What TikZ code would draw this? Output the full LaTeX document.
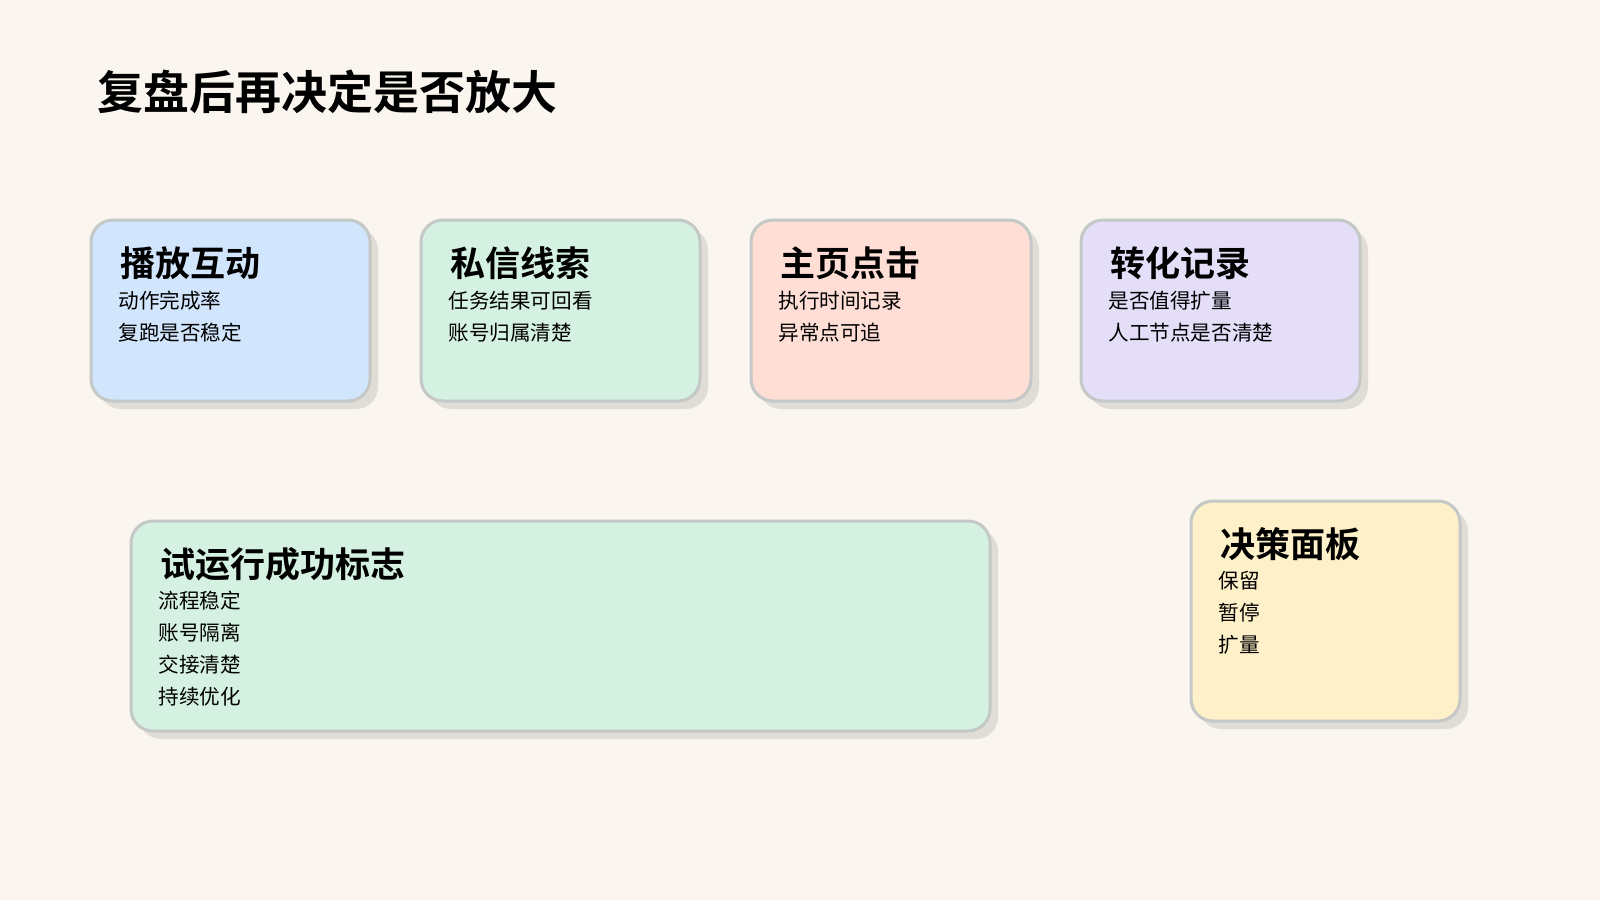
\documentclass[tikz,border=0pt]{standalone}
\usepackage{fontspec}
\setmainfont{Noto Sans CJK SC}
\newfontfamily\cjkb{Noto Sans CJK SC Bold}
\definecolor{bg}{HTML}{FAF6EF}
\definecolor{cblue}{HTML}{D1E5FC}
\definecolor{cgreen}{HTML}{D5F1E2}
\definecolor{cred}{HTML}{FFDED6}
\definecolor{cpurple}{HTML}{E4DEF8}
\definecolor{cyellow}{HTML}{FEF0C8}
\definecolor{bord}{HTML}{C4C8C6}
\definecolor{shad}{HTML}{E0DDD7}
\tikzset{
 card/.style={draw=bord,line width=1.5pt,rounded corners=11pt},
 shadowbox/.style={fill=shad,rounded corners=11pt},
 ttl/.style={anchor=west,inner sep=0pt,font=\cjkb\fontsize{17.5}{20}\selectfont},
 txt/.style={anchor=west,inner sep=0pt,font=\fontsize{10.3}{12}\selectfont},
}
\newcommand{\mycard}[9]{%
 \fill[shadowbox] (#1+8,#2+8) rectangle (#3+8,#4+8);
 \draw[card,fill=#5] (#1,#2) rectangle (#3,#4);
 \node[ttl] (#6) at (#1+29,#2+43) {#7};
}
\begin{document}
\begin{tikzpicture}[x=0.5pt,y=-0.5pt]
\fill[bg] (0,0) rectangle (1600,900);
\useasboundingbox (0,0) rectangle (1600,900);
\node[anchor=west,inner sep=0pt,font=\cjkb\fontsize{23}{26}\selectfont] (title) at (97,92) {复盘后再决定是否放大};
\mycard{91}{220}{370}{401}{cblue}{a}{播放互动}{}{}
\node[txt] (a1) at (118,301) {动作完成率};
\node[txt] (a2) at (118,333) {复跑是否稳定};
\mycard{421}{220}{700}{401}{cgreen}{b}{私信线索}{}{}
\node[txt] (b1) at (448,301) {任务结果可回看};
\node[txt] (b2) at (448,333) {账号归属清楚};
\mycard{751}{220}{1031}{401}{cred}{c}{主页点击}{}{}
\node[txt] (c1) at (778,301) {执行时间记录};
\node[txt] (c2) at (778,333) {异常点可追};
\mycard{1081}{220}{1360}{401}{cpurple}{d}{转化记录}{}{}
\node[txt] (d1) at (1108,301) {是否值得扩量};
\node[txt] (d2) at (1108,333) {人工节点是否清楚};
\mycard{131}{521}{990}{731}{cgreen}{e}{试运行成功标志}{}{}
\node[txt] (e1) at (158,601) {流程稳定};
\node[txt] (e2) at (158,633) {账号隔离};
\node[txt] (e3) at (158,665) {交接清楚};
\node[txt] (e4) at (158,697) {持续优化};
\mycard{1191}{501}{1460}{721}{cyellow}{f}{决策面板}{}{}
\node[txt] (f1) at (1218,581) {保留};
\node[txt] (f2) at (1218,613) {暂停};
\node[txt] (f3) at (1218,645) {扩量};
\end{tikzpicture}
\end{document}
